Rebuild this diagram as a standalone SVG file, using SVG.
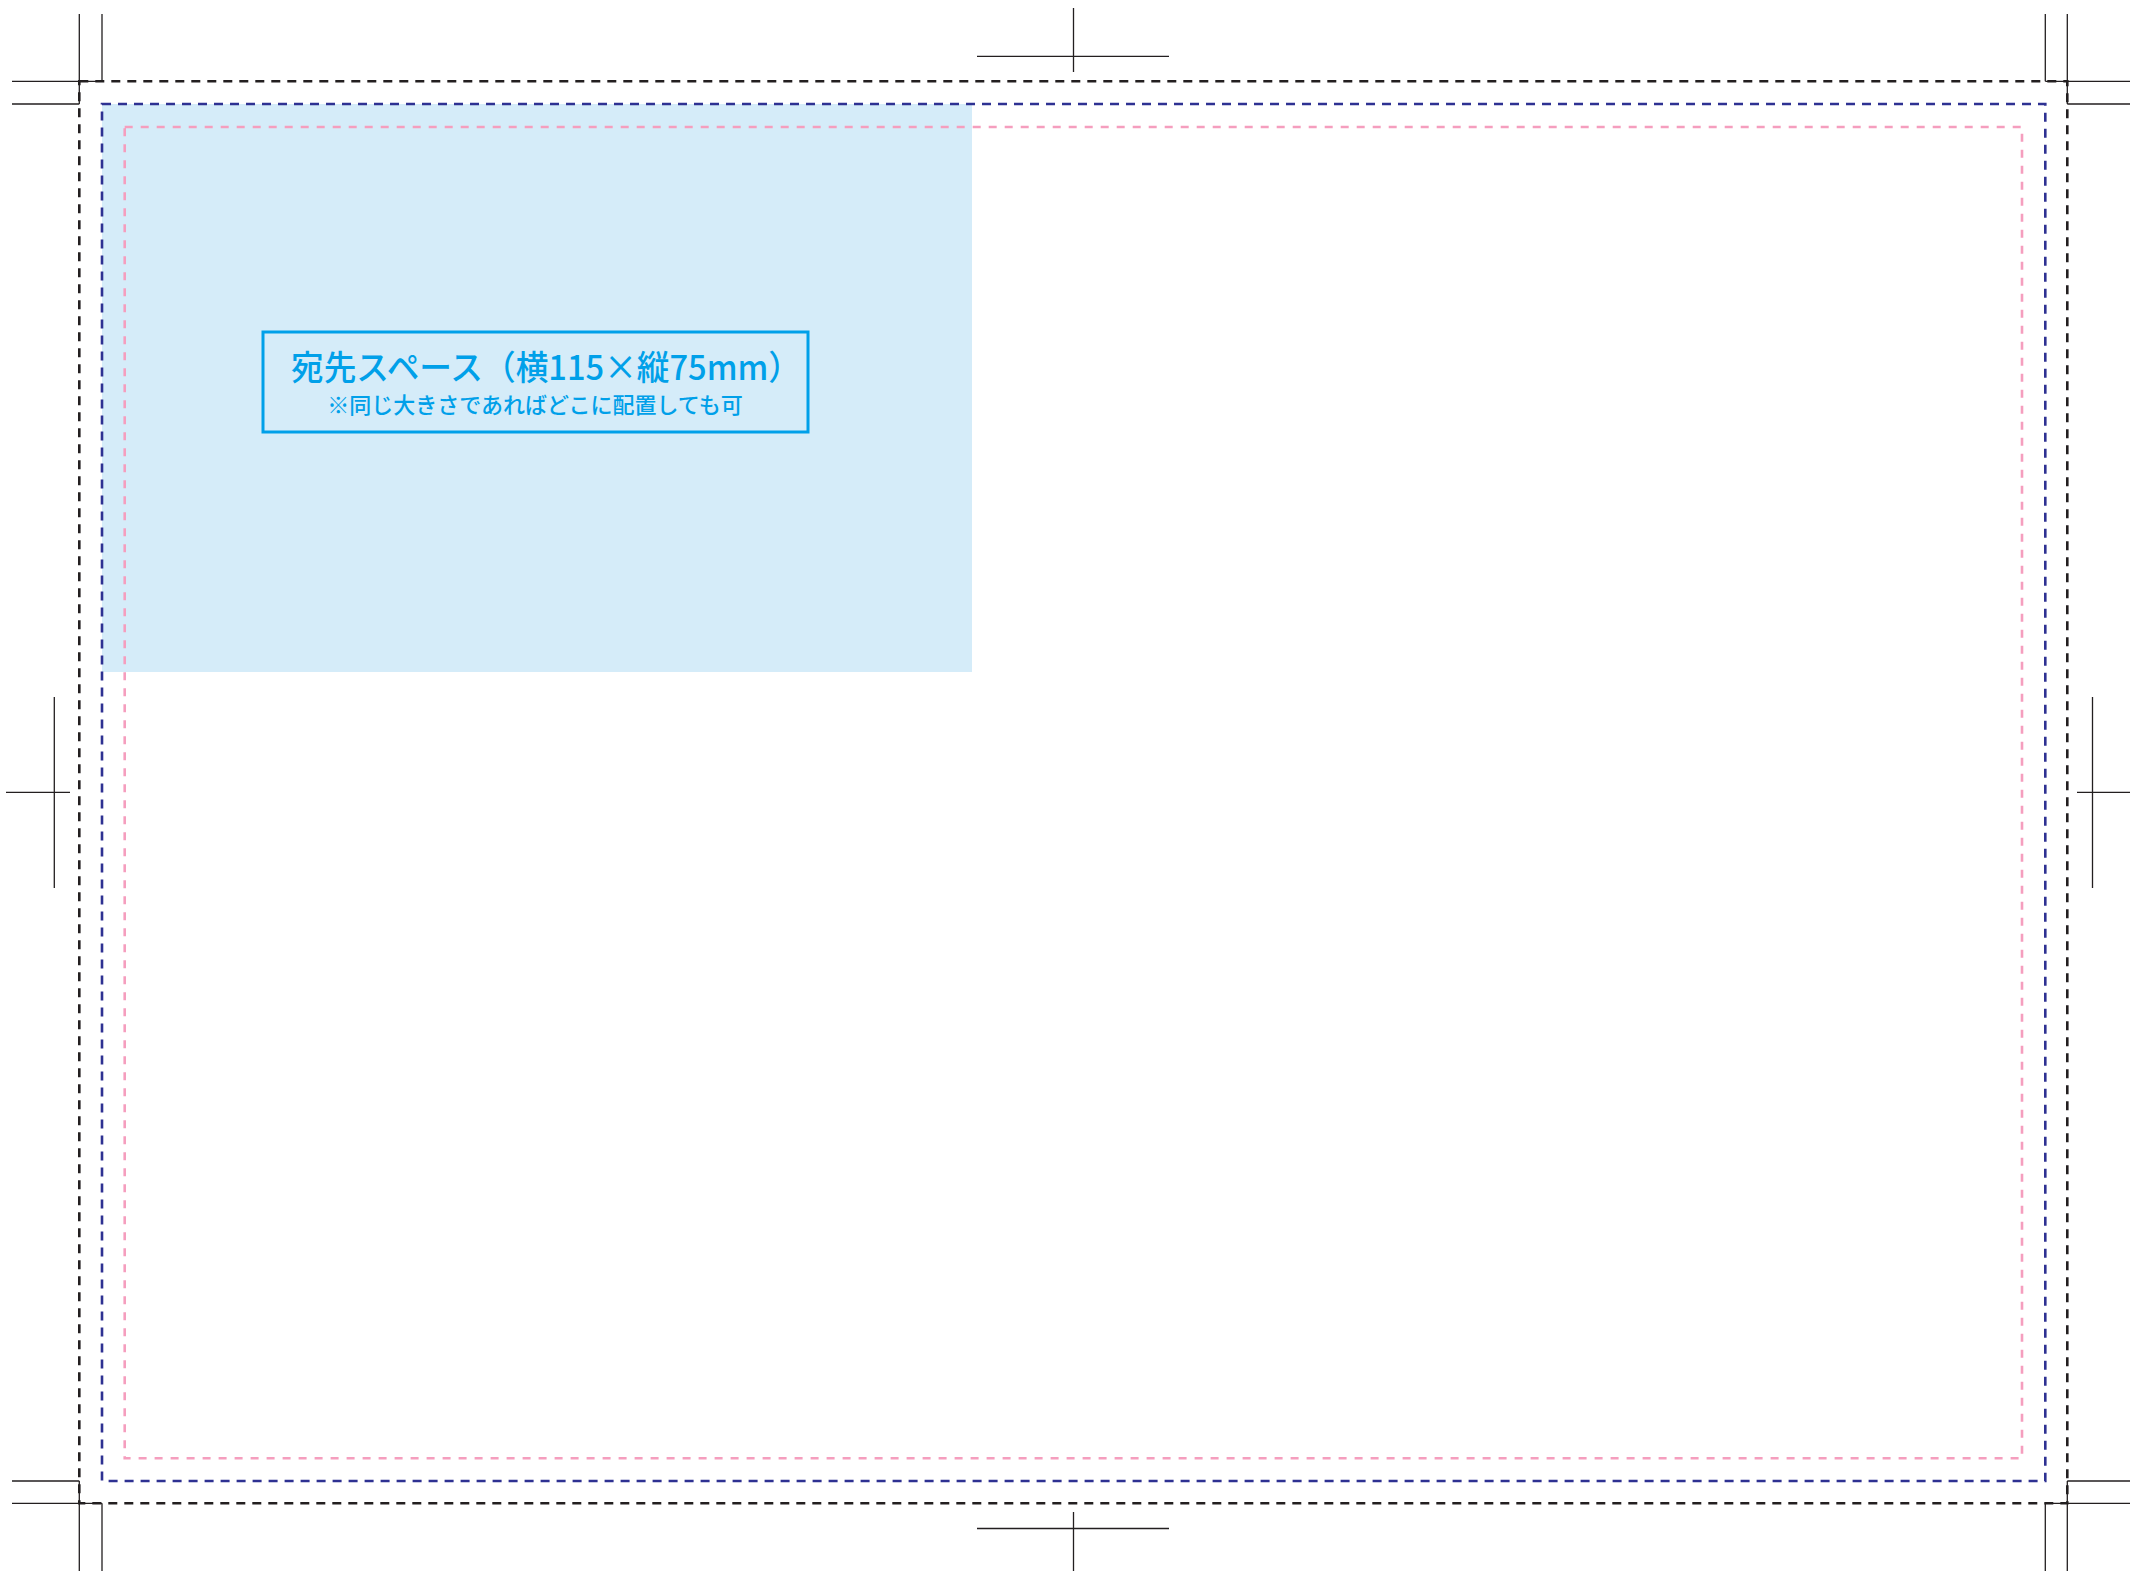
<svg xmlns="http://www.w3.org/2000/svg" width="2130" height="1571" viewBox="0 0 2130 1571">
<style>
.crop{stroke:#231f20;stroke-width:1.3;fill:none}
.bleed{stroke:#231f20;stroke-width:2.6;fill:none;stroke-dasharray:9 7}
.trim{stroke:#2e3192;stroke-width:2.6;fill:none;stroke-dasharray:9 7}
.safe{stroke:#f59ebe;stroke-width:2.6;fill:none;stroke-dasharray:8 8}
.t1{font-family:"Noto Sans CJK JP","Noto Sans",sans-serif;font-weight:500;fill:#00a0e9;text-anchor:middle}
</style>
<rect width="2130" height="1571" fill="#ffffff"/>
<g id="address-area">
<rect x="102" y="104" width="870" height="568" fill="#d5ecf9"/>
</g>
<g id="guides">
<rect class="bleed" x="79.3" y="81.3" width="1988" height="1422"/>
<rect class="trim" x="102" y="104" width="1943.3" height="1377"/>
<rect class="safe" x="124.7" y="127" width="1897.3" height="1331.3"/>
</g>
<g id="label">
<rect x="263" y="332" width="545" height="100" fill="none" stroke="#00a0e9" stroke-width="3"/>
<text class="t1" x="546" y="380" font-size="34" textLength="510" lengthAdjust="spacingAndGlyphs">宛先スペース（横115×縦75mm）</text>
<text class="t1" x="535" y="413" font-size="22">※同じ大きさであればどこに配置しても可</text>
</g>
<g id="crop-marks">
<path class="crop" d="M79.3 14V104M102 14V81.3M12 81.3H102M12 104H79.3"/>
<path class="crop" d="M2067.3 14V104M2045.3 14V81.3M2045.3 81.3H2134M2067.3 104H2134"/>
<path class="crop" d="M79.3 1571V1481M102 1571V1503.3M12 1503.3H102M12 1481H79.3"/>
<path class="crop" d="M2067.3 1571V1481M2045.3 1571V1503.3M2045.3 1503.3H2134M2067.3 1481H2134"/>
<path class="crop" d="M1073.5 8V72M977 56.3H1169"/>
<path class="crop" d="M1073.5 1512V1576M977 1528.5H1169"/>
<path class="crop" d="M54.3 697V888M6 792.3H70"/>
<path class="crop" d="M2092.5 697V888M2077 792.3H2140"/>
</g>
</svg>
